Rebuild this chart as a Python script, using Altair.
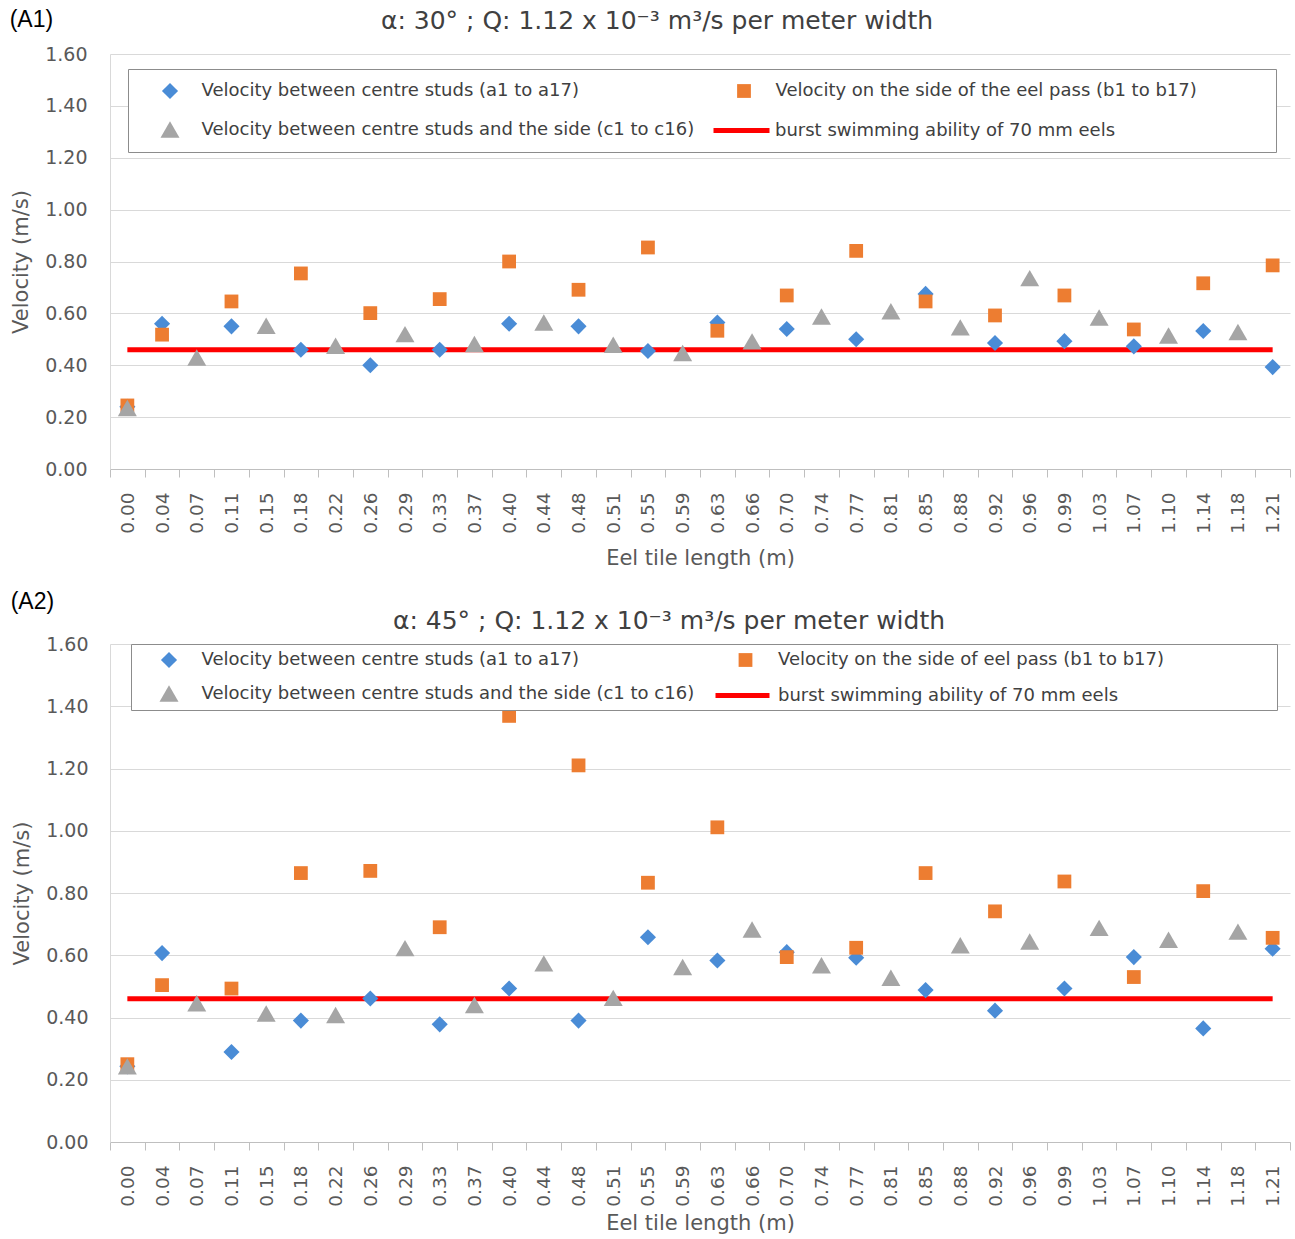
import altair as alt
import pandas as pd

# ---------------- data ----------------
x_labels = ["0.00", "0.04", "0.07", "0.11", "0.15", "0.18", "0.22", "0.26", "0.29", "0.33",
            "0.37", "0.40", "0.44", "0.48", "0.51", "0.55", "0.59", "0.63", "0.66", "0.70",
            "0.74", "0.77", "0.81", "0.85", "0.88", "0.92", "0.96", "0.99", "1.03", "1.07",
            "1.10", "1.14", "1.18", "1.21"]

ab_positions = ["0.00", "0.04", "0.11", "0.18", "0.26", "0.33", "0.40", "0.48", "0.55",
                "0.63", "0.70", "0.77", "0.85", "0.92", "0.99", "1.07", "1.14", "1.21"]
c_positions = ["0.00", "0.07", "0.15", "0.22", "0.29", "0.37", "0.44", "0.51", "0.59",
               "0.66", "0.74", "0.81", "0.88", "0.96", "1.03", "1.10", "1.18"]

a1_centre = [0.24, 0.56, 0.55, 0.46, 0.40, 0.46, 0.56, 0.55, 0.455, 0.565, 0.54, 0.50,
             0.675, 0.486, 0.493, 0.473, 0.532, 0.393]
a1_side = [0.245, 0.518, 0.646, 0.754, 0.601, 0.655, 0.80, 0.691, 0.854, 0.533, 0.669,
           0.841, 0.646, 0.592, 0.669, 0.538, 0.716, 0.785]
a1_between = [0.235, 0.43, 0.552, 0.475, 0.52, 0.482, 0.565, 0.479, 0.447, 0.492, 0.588,
              0.608, 0.546, 0.736, 0.584, 0.515, 0.528]

a2_centre = [0.243, 0.607, 0.289, 0.39, 0.461, 0.378, 0.493, 0.39, 0.658, 0.583, 0.61,
             0.592, 0.488, 0.422, 0.493, 0.594, 0.365, 0.621]
a2_side = [0.25, 0.504, 0.493, 0.864, 0.871, 0.69, 1.369, 1.21, 0.833, 1.011, 0.594,
           0.624, 0.864, 0.741, 0.837, 0.53, 0.806, 0.656]
a2_between = [0.243, 0.446, 0.413, 0.408, 0.623, 0.44, 0.574, 0.463, 0.562, 0.683, 0.568,
              0.528, 0.632, 0.644, 0.688, 0.65, 0.676]

burst_ability = 0.46
burst_name = "burst swimming ability of 70 mm eels"

names_a1 = ["Velocity between centre studs (a1 to a17)",
            "Velocity on the side of the eel pass (b1 to b17)",
            "Velocity between centre studs and the side (c1 to c16)"]
names_a2 = ["Velocity between centre studs (a1 to a17)",
            "Velocity on the side of eel pass (b1 to b17)",
            "Velocity between centre studs and the side (c1 to c16)"]

title_a1 = "α: 30° ; Q: 1.12 x 10⁻³ m³/s per meter width"
title_a2 = "α: 45° ; Q: 1.12 x 10⁻³ m³/s per meter width"
y_ticks = [0.0, 0.2, 0.4, 0.6, 0.8, 1.0, 1.2, 1.4, 1.6]

colors = ["#4a8cd6", "#ed7d31", "#a5a5a5"]
shapes = ["diamond", "square", "triangle-up"]
sizes = [260, 190, 360]

FONT = "DejaVu Sans"
GREY_TXT = "#595959"
DARK_TXT = "#404040"
BLANK = "\u2800"  # blank (non-trimmed) glyph used to widen the legend frame


def panel(tag, title, centre, side, between, names, width, height, cfg):
    df = pd.DataFrame({
        "x": ab_positions + ab_positions + c_positions,
        "v": centre + side + between,
        "s": [names[0]] * len(centre) + [names[1]] * len(side) + [names[2]] * len(between),
    })
    line_df = pd.DataFrame({"x": [x_labels[0], x_labels[-1]],
                            "v": [burst_ability, burst_ability],
                            "n": [burst_name, burst_name]})

    xenc = alt.X("x:N", scale=alt.Scale(domain=x_labels, type="band",
                                        paddingInner=0, paddingOuter=0),
                 axis=alt.Axis(title="Eel tile length (m)", labelAngle=-90,
                               tickBand="extent", grid=False, labelFontSize=18.5,
                               labelColor=GREY_TXT, labelFont=FONT, labelPadding=15,
                               domainColor="#bfbfbf", tickColor="#bfbfbf", tickSize=8,
                               titleFont=FONT, titleFontSize=21, titleColor=GREY_TXT,
                               titleFontWeight="normal", titlePadding=cfg["xtp"]))
    yenc = alt.Y("v:Q", scale=alt.Scale(domain=[0, 1.6]),
                 axis=alt.Axis(title="Velocity (m/s)", values=y_ticks, format=".2f",
                               labelFontSize=19, labelColor=GREY_TXT, labelFont=FONT,
                               ticks=False, labelPadding=cfg["ylp"], gridColor="#d9d9d9",
                               domainColor="#d9d9d9", titleFont=FONT, titleFontSize=21,
                               titleColor=GREY_TXT, titleFontWeight="normal",
                               titlePadding=cfg["ytp"]))

    pad_expr = "datum.index == 1 ? datum.label + '" + BLANK * cfg["nb"] + "' : datum.label"
    leg = alt.Legend(orient="none", legendX=cfg["lx"], legendY=cfg["ly"], columns=2,
                     direction="horizontal", values=names, labelExpr=pad_expr,
                     title=None, labelFont=FONT, labelFontSize=18, labelColor=DARK_TXT,
                     labelLimit=1000, strokeColor="#8c8c8c", fillColor="white",
                     padding=cfg["pad"], rowPadding=cfg["rp"], columnPadding=cfg["cp"],
                     symbolOffset=cfg["so"], labelOffset=cfg["lo"], zindex=1)
    line_leg = alt.Legend(orient="none", legendX=cfg["llx"], legendY=cfg["lly"],
                          title=None, labelFont=FONT, labelFontSize=18,
                          labelColor=DARK_TXT, labelLimit=1000, padding=0,
                          symbolType="stroke", symbolSize=cfg["lsz"],
                          symbolStrokeWidth=5, labelOffset=cfg["llo"], zindex=2)

    line = alt.Chart(line_df).mark_line(strokeWidth=5).encode(
        x=xenc, y=yenc,
        stroke=alt.Stroke("n:N", scale=alt.Scale(domain=[burst_name], range=["#ff0000"]),
                          legend=line_leg))
    pts = alt.Chart(df).mark_point(filled=True, opacity=1, strokeWidth=0).encode(
        x=xenc, y=yenc,
        color=alt.Color("s:N", sort=names,
                        scale=alt.Scale(domain=names, range=colors), legend=leg),
        shape=alt.Shape("s:N", sort=names,
                        scale=alt.Scale(domain=names, range=shapes), legend=leg),
        size=alt.Size("s:N", sort=names,
                      scale=alt.Scale(domain=names, range=sizes, type="ordinal"),
                      legend=leg),
    )
    layer = alt.layer(line, pts).properties(
        width=width, height=height,
        title=alt.TitleParams(title, font=FONT, fontSize=25, fontWeight="normal",
                              color=DARK_TXT, offset=cfg["to"], anchor="middle",
                              dx=cfg["tdx"]),
    )
    wrap = alt.vconcat(layer, title=alt.TitleParams(
        tag, anchor="start", font="Liberation Sans", fontSize=23, fontWeight="normal",
        color="black", offset=0, dy=cfg["tagdy"], dx=-1)).resolve_scale(
        color="independent", stroke="independent", shape="independent",
        size="independent").resolve_legend(
        color="independent", stroke="independent", shape="independent",
        size="independent")
    return wrap


cfg1 = dict(xtp=14, ylp=23, ytp=13, lx=18, ly=15, pad=13, rp=19, cp=20, so=18.5, lo=21,
            llx=601, lly=46, lsz=3136, llo=3, to=11, tdx=-43, tagdy=23, nb=5)
cfg2 = dict(xtp=6, ylp=22, ytp=13, lx=21, ly=0, pad=7, rp=14, cp=19.5, so=20.5, lo=22,
            llx=603, lly=22, lsz=2916, llo=6, to=1, tdx=-31, tagdy=5, nb=8)

p1 = panel("(A1)", title_a1, a1_centre, a1_side, a1_between, names_a1, 1180, 415, cfg1)
p2 = panel("(A2)", title_a2, a2_centre, a2_side, a2_between, names_a2, 1180, 498, cfg2)

chart = alt.vconcat(p1, p2, spacing=22).resolve_scale(
    color="independent", stroke="independent", shape="independent",
    size="independent").resolve_legend(
    color="independent", stroke="independent", shape="independent",
    size="independent").properties(
    padding={"left": 9, "top": 9, "right": 0, "bottom": 0},
    background="white",
).configure_view(stroke=None)

chart.save("out.html", embed_options={"renderer": "svg", "actions": False})
